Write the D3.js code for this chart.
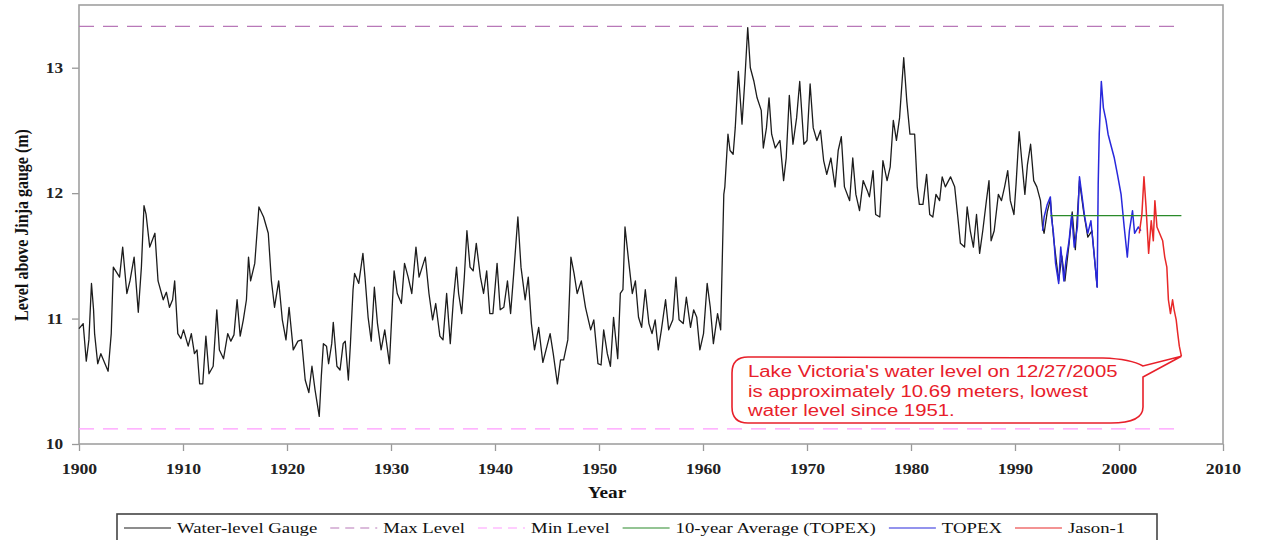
<!DOCTYPE html>
<html>
<head>
    <meta charset="utf-8">
    <title>Lake Victoria water level</title>
    <style>
    body {
        margin: 0;
        background-color: white;
    }

    svg {
        display: block;
    }

    .tick text {
        font-family: "Liberation Serif", "Times New Roman", serif;
        font-size: 15px;
        font-weight: bold;
        fill: #222;
    }

    .tick line {
        stroke: #999;
        stroke-width: 1.3px;
    }

    .axis-title {
        font-family: "Liberation Serif", "Times New Roman", serif;
        font-size: 16px;
        font-weight: bold;
        fill: #111;
    }

    .legend text {
        font-family: "Liberation Serif", "Times New Roman", serif;
        font-size: 15px;
        fill: #111;
    }

    .callout text {
        font-family: "Liberation Sans", Arial, sans-serif;
        font-size: 16px;
        fill: #e8202a;
    }
    </style>
</head>

<body>
    <svg id="chart" width="1261" height="540"></svg>
    <script src="https://cdn.jsdelivr.net/npm/d3@7/dist/d3.min.js"></script>
    <script>
    var xTicks = [1900, 1910, 1920, 1930, 1940, 1950, 1960, 1970, 1980, 1990, 2000, 2010];
    var yTicks = [10, 11, 12, 13];

    // Jinja gauge (year, metres)
    var gaugeYears = [
        1900.0, 1900.4, 1900.7, 1900.95, 1901.2, 1901.4, 1901.5, 1901.8, 1902.1, 1902.5, 1902.8,
        1903.1, 1903.3, 1903.9, 1904.2, 1904.6, 1904.9, 1905.3, 1905.7, 1906.0, 1906.25, 1906.45,
        1906.8, 1907.3, 1907.6, 1908.1, 1908.4, 1908.7, 1909.0, 1909.2, 1909.5, 1909.8, 1910.05,
        1910.5, 1910.8, 1911.1, 1911.35, 1911.6, 1911.9, 1912.2, 1912.5, 1912.9, 1913.25, 1913.5,
        1913.9, 1914.3, 1914.6, 1914.9, 1915.2, 1915.5, 1915.8, 1916.1, 1916.3, 1916.5, 1916.9,
        1917.3, 1917.75, 1918.2, 1918.5, 1918.8, 1919.2, 1919.55, 1919.9, 1920.2, 1920.6, 1921.05,
        1921.4, 1921.75, 1922.1, 1922.4, 1922.7, 1923.1, 1923.3, 1923.5, 1923.8, 1924.0, 1924.3,
        1924.45, 1924.8, 1925.1, 1925.4, 1925.6, 1925.9, 1926.1, 1926.35, 1926.5, 1926.9, 1927.3,
        1927.5, 1927.8, 1928.1, 1928.4, 1928.7, 1929.05, 1929.4, 1929.85, 1930.15, 1930.3, 1930.6,
        1931.0, 1931.3, 1931.65, 1932.0, 1932.4, 1932.7, 1933.0, 1933.3, 1933.65, 1934.0, 1934.3,
        1934.7, 1935.0, 1935.35, 1935.7, 1936.0, 1936.3, 1936.5, 1936.8, 1937.05, 1937.3, 1937.6,
        1937.9, 1938.2, 1938.6, 1938.9, 1939.2, 1939.5, 1939.8, 1940.2, 1940.5, 1940.85, 1941.2,
        1941.5, 1941.8, 1942.2, 1942.5, 1942.9, 1943.2, 1943.5, 1943.8, 1944.2, 1944.6, 1945.0,
        1945.3, 1945.6, 1946.0, 1946.3, 1946.6, 1947.0, 1947.3, 1947.6, 1947.9, 1948.3, 1948.7,
        1949.2, 1949.5, 1949.9, 1950.2, 1950.45, 1950.8, 1951.1, 1951.4, 1951.8, 1952.05, 1952.3,
        1952.5, 1952.85, 1953.2, 1953.5, 1953.8, 1954.1, 1954.45, 1954.8, 1955.1, 1955.4, 1955.7,
        1956.0, 1956.4, 1956.7, 1957.1, 1957.4, 1957.7, 1958.1, 1958.4, 1958.8, 1959.1, 1959.4,
        1959.7, 1960.05, 1960.4, 1960.7, 1961.0, 1961.4, 1961.7, 1961.8, 1962.0, 1962.1, 1962.4,
        1962.6, 1962.9, 1963.1, 1963.4, 1963.75, 1964.0, 1964.3, 1964.55, 1964.9, 1965.2, 1965.6,
        1965.8, 1966.1, 1966.35, 1966.6, 1966.95, 1967.4, 1967.75, 1968.0, 1968.3, 1968.65, 1969.0,
        1969.3, 1969.7, 1970.0, 1970.3, 1970.6, 1970.95, 1971.3, 1971.6, 1971.9, 1972.3, 1972.7,
        1973.0, 1973.3, 1973.6, 1974.1, 1974.4, 1974.7, 1975.05, 1975.4, 1975.8, 1976.0, 1976.35,
        1976.6, 1977.0, 1977.3, 1977.7, 1978.0, 1978.3, 1978.6, 1978.9, 1979.3, 1979.6, 1979.9,
        1980.35, 1980.6, 1980.8, 1981.15, 1981.5, 1981.8, 1982.1, 1982.4, 1982.75, 1983.0, 1983.3,
        1983.8, 1984.2, 1984.5, 1984.75, 1985.15, 1985.4, 1985.7, 1986.0, 1986.3, 1986.6, 1986.9,
        1987.25, 1987.5, 1987.7, 1988.0, 1988.4, 1988.7, 1989.0, 1989.3, 1989.55, 1989.9, 1990.1,
        1990.4, 1990.65, 1990.95, 1991.2, 1991.5, 1991.8, 1992.1, 1992.45, 1992.65, 1992.8, 1993.1,
        1993.4, 1993.7, 1994.2, 1994.5, 1994.8, 1995.2, 1995.5, 1995.8, 1996.2, 1996.6, 1997.0,
        1997.4, 1997.9
    ];
    var gaugeLevels = [
        10.92, 10.96, 10.66, 10.83, 11.28, 11.07, 10.88, 10.64, 10.72, 10.64, 10.58,
        10.88, 11.41, 11.33, 11.57, 11.20, 11.30, 11.49, 11.05, 11.41, 11.90, 11.83,
        11.57, 11.68, 11.30, 11.15, 11.21, 11.09, 11.15, 11.30, 10.88, 10.84, 10.91,
        10.78, 10.88, 10.72, 10.75, 10.48, 10.48, 10.86, 10.56, 10.62, 11.07, 10.75,
        10.68, 10.88, 10.82, 10.87, 11.15, 10.86, 10.99, 11.15, 11.49, 11.30, 11.44,
        11.89, 11.81, 11.68, 11.30, 11.09, 11.30, 10.99, 10.83, 11.09, 10.75, 10.82,
        10.83, 10.51, 10.41, 10.62, 10.43, 10.22, 10.54, 10.80, 10.78, 10.64, 10.80,
        10.97, 10.62, 10.59, 10.80, 10.82, 10.51, 10.80, 11.23, 11.36, 11.28, 11.52,
        11.33, 11.01, 10.82, 11.25, 10.96, 10.75, 10.91, 10.64, 11.15, 11.38, 11.20,
        11.12, 11.44, 11.33, 11.20, 11.57, 11.33, 11.41, 11.49, 11.20, 10.99, 11.12,
        10.86, 10.83, 11.20, 10.80, 11.15, 11.41, 11.20, 11.04, 11.33, 11.70, 11.41,
        11.38, 11.60, 11.33, 11.20, 11.38, 11.04, 11.04, 11.44, 11.07, 11.09, 11.30,
        11.04, 11.36, 11.81, 11.41, 11.15, 11.33, 10.96, 10.75, 10.93, 10.65, 10.78,
        10.88, 10.72, 10.48, 10.67, 10.67, 10.83, 11.49, 11.36, 11.20, 11.30, 11.09,
        10.91, 10.99, 10.64, 10.63, 10.91, 10.72, 10.62, 11.01, 10.68, 11.20, 11.23,
        11.73, 11.46, 11.20, 11.30, 11.01, 10.93, 11.23, 10.96, 10.88, 10.99, 10.75,
        10.91, 11.15, 10.91, 10.99, 11.33, 10.99, 10.96, 11.17, 10.93, 11.07, 11.01,
        10.75, 10.88, 11.28, 11.09, 10.80, 11.04, 10.91, 11.28, 11.99, 12.05, 12.47,
        12.34, 12.31, 12.52, 12.97, 12.55, 12.87, 13.32, 13.00, 12.89, 12.76, 12.66,
        12.36, 12.52, 12.76, 12.47, 12.36, 12.42, 12.10, 12.28, 12.78, 12.39, 12.60,
        12.89, 12.39, 12.42, 12.87, 12.52, 12.42, 12.50, 12.26, 12.15, 12.28, 12.05,
        12.34, 12.45, 12.05, 11.94, 12.28, 11.99, 11.86, 12.10, 12.02, 11.97, 12.18,
        11.83, 11.81, 12.26, 12.10, 12.21, 12.58, 12.42, 12.60, 13.08, 12.73, 12.47,
        12.47, 12.05, 11.91, 11.91, 12.15, 11.83, 11.81, 11.99, 11.94, 12.13, 12.05,
        12.13, 12.05, 11.81, 11.60, 11.57, 11.89, 11.70, 11.57, 11.83, 11.52, 11.70,
        11.94, 12.10, 11.62, 11.70, 11.99, 11.94, 12.05, 12.18, 11.94, 11.83, 12.07,
        12.49, 12.26, 11.99, 12.23, 12.39, 12.10, 12.05, 11.94, 11.73, 11.68, 11.85,
        11.95, 11.65, 11.30, 11.50, 11.30, 11.60, 11.85, 11.55, 12.10, 11.85, 11.65,
        11.70, 11.25
    ];

    var topexYears = [
        1992.65, 1992.8, 1993.1, 1993.4, 1993.5, 1993.7, 1993.9, 1994.2, 1994.4, 1994.7, 1994.9,
        1995.2, 1995.45, 1995.7, 1996.0, 1996.2, 1996.5, 1996.7, 1997.0, 1997.3, 1997.6, 1997.9,
        1998.0, 1998.1, 1998.3, 1998.5, 1998.75, 1998.95, 1999.2, 1999.55, 1999.85, 2000.2, 2000.5,
        2000.8, 2001.0, 2001.3, 2001.5, 2001.85, 2002.1
    ];
    var topexLevels = [
        11.70, 11.81, 11.91, 11.97, 11.81, 11.68, 11.44, 11.28, 11.57, 11.30, 11.46,
        11.62, 11.83, 11.57, 11.73, 12.13, 11.94, 11.81, 11.68, 11.78, 11.52, 11.25,
        12.07, 12.47, 12.89, 12.68, 12.58, 12.47, 12.39, 12.28, 12.15, 11.99, 11.73,
        11.49, 11.70, 11.86, 11.68, 11.73, 11.70
    ];

    var jasonYears = [
        2001.95, 2002.2, 2002.4, 2002.6, 2002.85, 2003.1, 2003.3, 2003.45, 2003.65, 2003.9, 2004.2,
        2004.4, 2004.6, 2004.75, 2004.95, 2005.15, 2005.3, 2005.5, 2005.65, 2005.8, 2006.0
    ];
    var jasonLevels = [
        11.68, 11.83, 12.13, 11.89, 11.52, 11.78, 11.62, 11.94, 11.73, 11.68, 11.62,
        11.49, 11.41, 11.15, 11.04, 11.15, 11.07, 10.99, 10.88, 10.78, 10.70
    ];

    var maxLevel = 13.33;
    var minLevel = 10.12;
    var levelSpan = [1900, 2006];
    var avgLevel = 11.82;
    var avgSpan = [1993.4, 2006];

    var seriesNames = ["Water-level Gauge", "Max Level", "Min Level", "10-year Average (TOPEX)", "TOPEX", "Jason-1"];
    var calloutLines = [
        "Lake Victoria's water level on 12/27/2005",
        "is approximately 10.69 meters, lowest",
        "water level since 1951."
    ];

    var colors = {
        gauge: "#1c1c1c",
        max: "#b878b8",
        min: "#ff9cff",
        avg: "#2a8a2a",
        topex: "#2828dc",
        jason: "#e82828"
    };

    // the original picture is stretched sideways, so text gets widened too
    function stretchText(sel, k) {
        sel.each(function() {
            var w = this.getComputedTextLength();
            d3.select(this).attr("textLength", w * k).attr("lengthAdjust", "spacingAndGlyphs");
        });
    }

    var svg = d3.select("#chart");

    var x = d3.scaleLinear().domain([1900, 2010]).range([79, 1223]);
    var y = d3.scaleLinear().domain([10, 13.5]).range([444, 5]);

    var line = d3.line()
        .x(function(d) { return x(d[0]); })
        .y(function(d) { return y(d[1]); });

    // axes
    var xAxis = svg.append("g")
        .attr("transform", "translate(0,444)")
        .call(d3.axisBottom(x).tickValues(xTicks).tickFormat(d3.format("d")).tickSize(7).tickPadding(12));
    xAxis.select(".domain").remove();
    stretchText(xAxis.selectAll("text"), 1.18);

    var yAxis = svg.append("g")
        .attr("transform", "translate(79,0)")
        .call(d3.axisLeft(y).tickValues(yTicks).tickFormat(d3.format("d")).tickSize(7).tickPadding(9));
    yAxis.select(".domain").remove();
    stretchText(yAxis.selectAll("text"), 1.15);

    svg.append("rect")
        .attr("x", x(1900))
        .attr("y", y(13.5))
        .attr("width", x(2010) - x(1900))
        .attr("height", y(10) - y(13.5))
        .attr("fill", "none")
        .attr("stroke", "#a0a0a0")
        .attr("stroke-width", 1.6);

    // reference levels
    svg.append("line")
        .attr("x1", x(levelSpan[0])).attr("x2", x(levelSpan[1]))
        .attr("y1", y(maxLevel)).attr("y2", y(maxLevel))
        .attr("stroke", colors.max)
        .attr("stroke-width", 1.3)
        .attr("stroke-dasharray", "15,9");

    svg.append("line")
        .attr("x1", x(levelSpan[0])).attr("x2", x(levelSpan[1]))
        .attr("y1", y(minLevel)).attr("y2", y(minLevel))
        .attr("stroke", colors.min)
        .attr("stroke-width", 1.3)
        .attr("stroke-dasharray", "15,9");

    // series
    svg.append("path")
        .datum(d3.zip(gaugeYears, gaugeLevels))
        .attr("d", line)
        .attr("fill", "none")
        .attr("stroke", colors.gauge)
        .attr("stroke-width", 1.3)
        .attr("stroke-linejoin", "round");

    svg.append("path")
        .datum(d3.zip(topexYears, topexLevels))
        .attr("d", line)
        .attr("fill", "none")
        .attr("stroke", colors.topex)
        .attr("stroke-width", 1.5)
        .attr("stroke-linejoin", "round");

    svg.append("line")
        .attr("x1", x(avgSpan[0])).attr("x2", x(avgSpan[1]))
        .attr("y1", y(avgLevel)).attr("y2", y(avgLevel))
        .attr("stroke", colors.avg)
        .attr("stroke-width", 1.2);

    svg.append("path")
        .datum(d3.zip(jasonYears, jasonLevels))
        .attr("d", line)
        .attr("fill", "none")
        .attr("stroke", colors.jason)
        .attr("stroke-width", 1.5)
        .attr("stroke-linejoin", "round");

    // axis titles
    svg.append("text")
        .attr("class", "axis-title")
        .attr("x", 607)
        .attr("y", 498)
        .attr("text-anchor", "middle")
        .text("Year")
        .call(stretchText, 1.2);

    svg.append("text")
        .attr("class", "axis-title")
        .attr("transform", "translate(28,225) rotate(-90) scale(1,1.2)")
        .attr("text-anchor", "middle")
        .text("Level above Jinja gauge (m)");

    // callout
    var tipX = x(jasonYears[jasonYears.length - 1]);
    var tipY = y(jasonLevels[jasonLevels.length - 1]);
    var bl = 732, br = 1143, bt = 357, bb = 423, r = 16;
    var callout = svg.append("g").attr("class", "callout");

    callout.append("path")
        .attr("d", "M" + (bl + r) + "," + bt +
            " L" + (br - 40) + "," + (bt + 1) +
            " Q" + (br - 12) + "," + (bt + 2) + " " + br + "," + (bt + 9) +
            " L" + tipX + "," + tipY +
            " L" + br + "," + (bt + 20) +
            " L" + br + "," + (bb - r) +
            " Q" + br + "," + bb + " " + (br - r * 2) + "," + bb +
            " L" + (bl + r) + "," + bb +
            " Q" + bl + "," + bb + " " + bl + "," + (bb - r) +
            " L" + bl + "," + (bt + r) +
            " Q" + bl + "," + bt + " " + (bl + r) + "," + bt + " Z")
        .attr("fill", "white")
        .attr("stroke", "#e8202a")
        .attr("stroke-width", 1.6);

    callout.selectAll("text")
        .data(calloutLines)
        .enter().append("text")
        .attr("x", 748)
        .attr("y", function(d, i) { return 377 + i * 19.5; })
        .text(function(d) { return d; })
        .call(stretchText, 1.27);

    // legend
    var legendItems = [
        { name: seriesNames[0], color: colors.gauge, dash: null },
        { name: seriesNames[1], color: colors.max, dash: "9,6" },
        { name: seriesNames[2], color: colors.min, dash: "9,6" },
        { name: seriesNames[3], color: colors.avg, dash: null },
        { name: seriesNames[4], color: colors.topex, dash: null },
        { name: seriesNames[5], color: colors.jason, dash: null }
    ];

    var legend = svg.append("g").attr("class", "legend");
    legend.append("rect")
        .attr("x", 117)
        .attr("y", 514)
        .attr("width", 1040)
        .attr("height", 40)
        .attr("fill", "white")
        .attr("stroke", "#444")
        .attr("stroke-width", 1.6);

    var lx = 124;
    legendItems.forEach(function(item) {
        var ln = legend.append("line")
            .attr("x1", lx).attr("x2", lx + 47)
            .attr("y1", 528).attr("y2", 528)
            .attr("stroke", item.color)
            .attr("stroke-width", 1.2);
        if (item.dash) ln.attr("stroke-dasharray", item.dash);
        var t = legend.append("text")
            .attr("x", lx + 53)
            .attr("y", 533)
            .text(item.name)
            .call(stretchText, 1.25);
        lx += 53 + +t.attr("textLength") + 13;
    });
    </script>
</body>
</html>
